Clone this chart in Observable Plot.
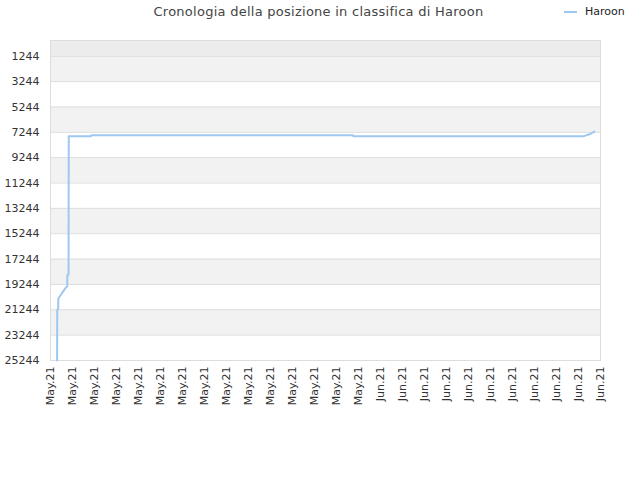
<!DOCTYPE html>
<html>
<head>
<meta charset="utf-8">
<script src="https://cdn.jsdelivr.net/npm/d3@7"></script>
<script src="https://cdn.jsdelivr.net/npm/@observablehq/plot@0.6"></script>
<style>
  body { margin: 0; background: #fff; font-family: "DejaVu Sans", sans-serif; }
  #wrap { position: relative; width: 640px; height: 480px; }
  #title { height: 24px; line-height: 24px; text-align: center; font-size: 13px; letter-spacing: 0.26px; color: #444; padding-right: 3px; }
  #legend { position: absolute; top: 5px; left: 564px; font-size: 11px; color: #222; display: flex; align-items: center; }
  #legend .sw { width: 13px; height: 2px; background: #9ec8f2; margin-right: 8px; }
</style>
</head>
<body>
<div id="wrap">
  <div id="title">Cronologia della posizione in classifica di Haroon</div>
  <div id="legend"><span class="sw"></span><span>Haroon</span></div>
  <div id="chart"></div>
</div>
<script>
const playerName = "Haroon";
const times = [
  "2021-05-03T14:24Z", "2021-05-03T14:38Z", "2021-05-03T14:53Z", "2021-05-03T16:48Z",
  "2021-05-03T17:02Z", "2021-05-04T09:50Z", "2021-05-04T12:29Z", "2021-05-04T12:43Z",
  "2021-05-04T15:22Z", "2021-05-04T15:50Z", "2021-05-06T16:19Z", "2021-05-06T16:48Z",
  "2021-05-30T12:00Z", "2021-05-30T12:29Z", "2021-06-20T10:48Z", "2021-06-20T16:48Z",
  "2021-06-21T00:00Z", "2021-06-21T04:48Z", "2021-06-21T10:48Z"
];
const ranks = [
  25244, 22100, 21250, 21150,
  20350, 19480, 19400, 18530,
  18450, 7560, 7560, 7480,
  7480, 7560, 7560, 7480,
  7400, 7300, 7180
];
const yTicks = [1244, 3244, 5244, 7244, 9244, 11244, 13244, 15244, 17244, 19244, 21244, 23244, 25244];
const xTicks = [
  "2021-05-03", "2021-05-05", "2021-05-07", "2021-05-09", "2021-05-11", "2021-05-13",
  "2021-05-15", "2021-05-17", "2021-05-19", "2021-05-21", "2021-05-23", "2021-05-25",
  "2021-05-27", "2021-05-29", "2021-05-31", "2021-06-02", "2021-06-04", "2021-06-06",
  "2021-06-08", "2021-06-10", "2021-06-12", "2021-06-14", "2021-06-16", "2021-06-18",
  "2021-06-20", "2021-06-22"
];
const xDomain = ["2021-05-03", "2021-06-22"];
const yDomain = [25244, 0];

const data = times.map((t, i) => ({date: new Date(t), rank: ranks[i]}));
const tickDates = xTicks.map(s => new Date(s + "T00:00Z"));

// alternating bands between y ticks
const bands = [{y1: 0, y2: yTicks[0], fill: "#ececec"}];
for (let i = 0; i < yTicks.length - 1; i++) {
  if (i % 2 === 0) bands.push({y1: yTicks[i], y2: yTicks[i + 1], fill: "#f2f2f2"});
}

const chart = Plot.plot({
  width: 640,
  height: 456,
  marginTop: 16,
  marginLeft: 50,
  marginRight: 40,
  marginBottom: 120,
  style: {fontFamily: "DejaVu Sans, sans-serif", fontSize: "11px", color: "#333", background: "#fff", overflow: "visible"},
  x: {
    type: "utc",
    domain: xDomain.map(s => new Date(s + "T00:00Z")),
    ticks: tickDates,
    tickFormat: d3.utcFormat("%b.%y"),
    tickRotate: -90,
    tickSize: 0,
    tickPadding: 6,
    label: null
  },
  y: {
    domain: yDomain,
    ticks: yTicks,
    tickFormat: d => String(d),
    tickSize: 0,
    tickPadding: 11,
    label: null
  },
  marks: [
    Plot.rect(bands, {y1: "y1", y2: "y2", fill: "fill"}),
    Plot.ruleY(yTicks, {stroke: "#dddddd", strokeWidth: 1}),
    Plot.frame({stroke: "#dddddd"}),
    Plot.line(data, {x: "date", y: "rank", stroke: "#9ec8f2", strokeWidth: 2})
  ]
});
document.getElementById("chart").appendChild(chart);
</script>
</body>
</html>
